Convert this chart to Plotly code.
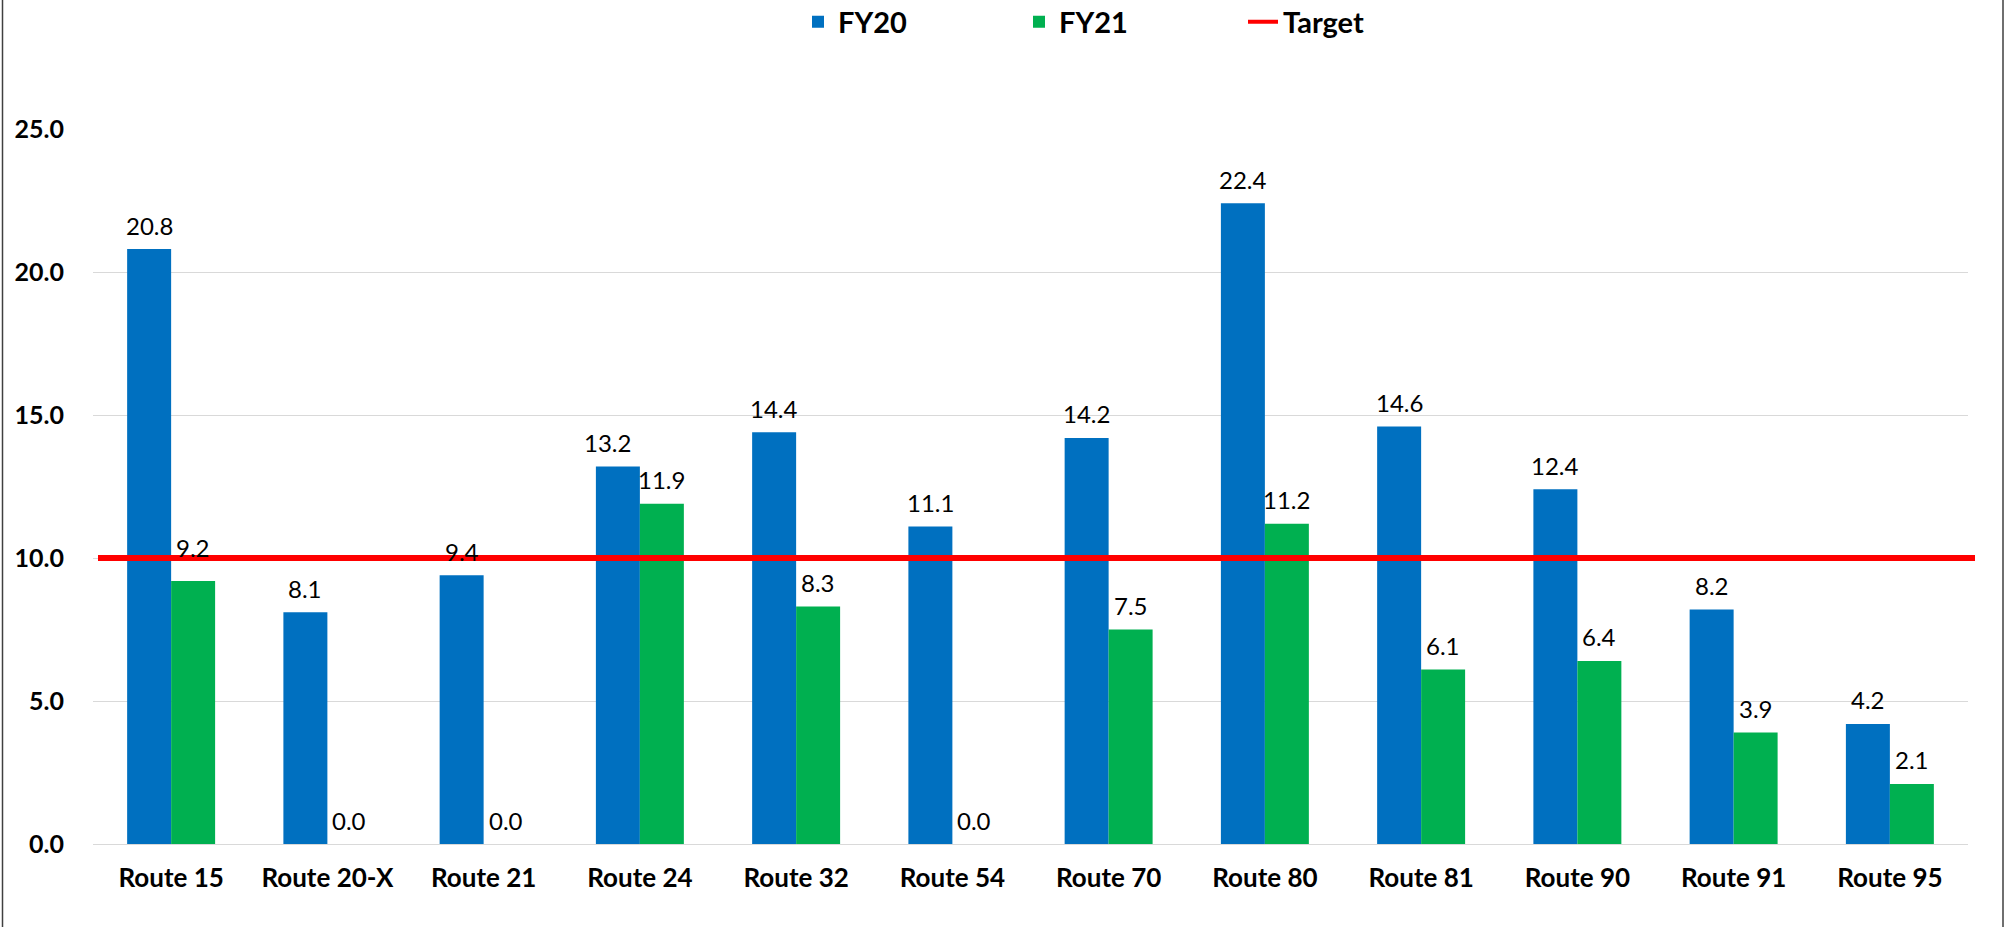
import plotly.graph_objects as go

categories = ["Route 15", "Route 20-X", "Route 21", "Route 24", "Route 32", "Route 54",
              "Route 70", "Route 80", "Route 81", "Route 90", "Route 91", "Route 95"]
fy20 = [20.8, 8.1, 9.4, 13.2, 14.4, 11.1, 14.2, 22.4, 14.6, 12.4, 8.2, 4.2]
fy21 = [9.2, 0.0, 0.0, 11.9, 8.3, 0.0, 7.5, 11.2, 6.1, 6.4, 3.9, 2.1]
target = 10.0
y_ticks = [0, 5, 10, 15, 20, 25]

# ---- layout / style constants (not data) ----
W, H = 2013, 927
ML, MR, MT, MB = 93, 45, 129, 83
PW = W - ML - MR
PH = H - MT - MB
BARGAP = 0.437
FONT = "Lato"
BLUE = "#0070C0"
GREEN = "#00B050"
LABEL_SIZE = 24
XTICK_SIZE = 26
YTICK_SIZE = 25
LEGEND_SIZE = 29
LABEL_LIFT = 24            # px between bar top and label centre
LABEL_NUDGE_Y = {("FY21", "Route 15"): 9}     # label lifted above the target line
LABEL_NUDGE_X = {("FY20", "Route 24"): -10}   # label moved aside to avoid overlap


def px_x(px):
    return (px - ML) / PW


def px_y(py):
    return (H - MB - py) / PH


fig = go.Figure()
series = [("FY20", fy20, BLUE, "legend"), ("FY21", fy21, GREEN, "legend2")]
for name, vals, col, leg in series:
    fig.add_trace(go.Bar(name=name, x=categories, y=vals, marker_color=col,
                         marker_line_width=0, legend=leg))

fig.add_trace(go.Scatter(name="Target", x=[None], y=[None], mode="lines",
                         line=dict(color="#FF0000", width=4), legend="legend3"))

# data labels placed on the bars through the axis scales
cat_px = PW / len(categories)
bar_px = cat_px * (1 - BARGAP) / 2
annotations = []
for i, (name, vals, col, leg) in enumerate(series):
    shift = (i - 0.5) * bar_px
    for c, v in zip(categories, vals):
        annotations.append(dict(
            x=c, y=v, xref="x", yref="y", text=f"{v:.1f}", showarrow=False,
            xshift=shift + LABEL_NUDGE_X.get((name, c), 0),
            yshift=LABEL_LIFT + LABEL_NUDGE_Y.get((name, c), 0),
            yanchor="middle", xanchor="center",
            font=dict(family=FONT, size=LABEL_SIZE, color="black")))

# Target line spanning the plot area
fig.add_shape(type="line", xref="paper", yref="y",
              x0=px_x(98), x1=px_x(1975), y0=target, y1=target,
              line=dict(color="#FF0000", width=6), layer="above")
# Chart outer border (cropped top and bottom)
fig.add_shape(type="rect", xref="paper", yref="paper",
              x0=px_x(2.5), x1=px_x(2003), y0=-0.3, y1=1.4,
              line=dict(color="#404040", width=1.5), layer="above")

legend_common = dict(orientation="h", yanchor="middle", y=px_y(22), xanchor="left",
                     font=dict(family=FONT, size=LEGEND_SIZE, color="black", weight="bold"),
                     bgcolor="rgba(0,0,0,0)", borderwidth=0)

fig.update_layout(
    width=W, height=H,
    margin=dict(l=ML, r=MR, t=MT, b=MB, autoexpand=False),
    paper_bgcolor="white", plot_bgcolor="white",
    barmode="group", bargap=BARGAP, bargroupgap=0,
    font=dict(family=FONT, size=LABEL_SIZE, color="black"),
    showlegend=True,
    legend=dict(x=px_x(798), **legend_common),
    legend2=dict(x=px_x(1019), **legend_common),
    legend3=dict(x=px_x(1243), **legend_common),
    annotations=annotations,
    xaxis=dict(showgrid=False, showline=False, zeroline=False, ticks="",
               tickfont=dict(family=FONT, size=XTICK_SIZE, color="black", weight="bold"),
               ticklabelstandoff=16),
    yaxis=dict(range=[0, 25], tickvals=y_ticks, tickformat=".1f",
               showgrid=True, gridcolor="#D9D9D9", gridwidth=1,
               zeroline=True, zerolinecolor="#D9D9D9", zerolinewidth=1,
               showline=False, ticks="",
               tickfont=dict(family=FONT, size=YTICK_SIZE, color="black", weight="bold"),
               ticklabelstandoff=28),
)

fig.write_html("out.html", config={"displayModeBar": False},
               post_script="document.body.style.margin='0';")
